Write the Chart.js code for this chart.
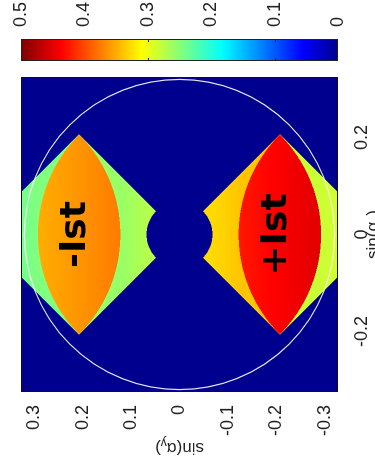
<!DOCTYPE html>
<html>
<head>
<meta charset="utf-8">
<script src="https://cdn.jsdelivr.net/npm/chart.js@4.4.1/dist/chart.umd.min.js"></script>
<style>
  html, body { margin: 0; padding: 0; background: #fff; width: 375px; height: 464px; overflow: hidden; }
  /* the figure is laid out landscape and turned a quarter turn */
  #turn { position: absolute; left: 0; top: 0; width: 464px; height: 375px;
          transform-origin: 0 0; transform: translate(0, 464px) rotate(-90deg); }
  canvas { display: block; }
</style>
</head>
<body>
<div id="turn"><canvas id="pupil" width="464" height="375"></canvas></div>
<script>
// ---- axes ----
const xTicks = [-0.2, 0, 0.2];                       // sin(alpha_x)
const yTicks = [-0.3, -0.2, -0.1, 0, 0.1, 0.2, 0.3]; // sin(alpha_y)
const xRange = [-0.325, 0.325];
const yRange = [-0.327, 0.327];

// ---- colour scale ----
const levelTicks = [0, 0.1, 0.2, 0.3, 0.4, 0.5];
const levelMarks = [0.1, 0.3];
const levelRange = [0, 0.5];

// ---- diffraction orders ----
const orders = ['-Ist', '+Ist'];
const orderShift = [0.414, -0.414];   // centre of the shifted pupil, sin(alpha_y)
const pupilRadius = 0.292;
const holeRadius = 0.068;
const naRadius = 0.32;

// levels per order, [edge towards the centre, edge away from the centre]
const lensLevels = [[0.375, 0.350], [0.425, 0.452]];
const nearLevels = [[0.272, 0.258], [0.328, 0.338]];  // [hole side, lens side]
const farLevels  = [[0.247, 0.240], [0.283, 0.287]];  // [lens side, frame side]

const FONT = "'Liberation Sans', Arial, sans-serif";
const fmt = v => String(Math.round(v * 10) / 10);

function ramp(pair, t) {
  t = Math.max(0, Math.min(1, t));
  return pair[0] + (pair[1] - pair[0]) * t;
}

// level at a point of the pupil plane
function levelAt(x, y) {
  for (let k = 0; k < orders.length; k++) {
    const s = orderShift[k], c = s / 2, S = Math.abs(s), R = pupilRadius;
    if (Math.abs(x) + Math.abs(y - c) > Math.abs(c)) continue;
    const r0 = Math.hypot(x, y);
    if (r0 < holeRadius) return 0;
    const inCentred = r0 <= R;
    const inShifted = Math.hypot(x, y - s) <= R;
    const ay = Math.abs(y);
    if (inCentred && inShifted) return ramp(lensLevels[k], (ay - (S - R)) / (2 * R - S));
    if (inCentred) return ramp(nearLevels[k], (ay - holeRadius) / (S - R - holeRadius));
    return ramp(farLevels[k], (ay - R) / (yRange[1] - R));
  }
  return 0;
}

// jet colour map
function jet(v) {
  const u = Math.max(0, Math.min(1, (v - levelRange[0]) / (levelRange[1] - levelRange[0])));
  const t = 1 / 64 + u * 63 / 64;
  const f = d => Math.max(0, Math.min(1, 1.5 - Math.abs(4 * t - d)));
  return [f(3) * 255, f(2) * 255, f(1) * 255];
}

function drawTitle(ctx, cx, cy, rot, sub) {
  const parts = [['sin(\u03b1', 17, 0], [sub, 12, 4], [')', 17, 0]];
  ctx.save();
  ctx.translate(cx, cy);
  ctx.rotate(rot);
  ctx.fillStyle = '#222';
  ctx.textBaseline = 'alphabetic';
  ctx.textAlign = 'left';
  let w = 0;
  for (const [t, s] of parts) { ctx.font = s + 'px ' + FONT; w += ctx.measureText(t).width; }
  let px = -w / 2;
  for (const [t, s, dy] of parts) {
    ctx.font = s + 'px ' + FONT;
    ctx.fillText(t, px, dy);
    px += ctx.measureText(t).width;
  }
  ctx.restore();
}

// fixed scale boxes; label overhang is not added to the plot margins
const fixBox = size => s => {
  if (s.isHorizontal()) s.height = size; else s.width = size;
  s.paddingTop = 0; s.paddingBottom = 0; s.paddingLeft = 0; s.paddingRight = 0;
};

const pupilPlugin = {
  id: 'pupil',
  beforeDatasetsDraw(chart) {
    const { ctx, chartArea: a, scales } = chart;
    const xs = scales.x, ys = scales.y;
    const L = Math.round(a.left), T = Math.round(a.top);
    const W = Math.round(a.right) - L, H = Math.round(a.bottom) - T;
    const img = ctx.createImageData(W, H);
    const sub = [0.25, 0.75];
    for (let j = 0; j < H; j++) {
      for (let i = 0; i < W; i++) {
        let r = 0, g = 0, b = 0;
        for (const dy of sub) for (const dx of sub) {
          const c = jet(levelAt(xs.getValueForPixel(L + i + dx), ys.getValueForPixel(T + j + dy)));
          r += c[0]; g += c[1]; b += c[2];
        }
        const o = (j * W + i) * 4;
        img.data[o] = r / 4; img.data[o + 1] = g / 4; img.data[o + 2] = b / 4; img.data[o + 3] = 255;
      }
    }
    ctx.putImageData(img, L, T);

    // numerical aperture circle
    const cx = xs.getPixelForValue(0), cy = ys.getPixelForValue(0);
    const rad = xs.getPixelForValue(naRadius) - cx;
    ctx.save();
    ctx.beginPath(); ctx.rect(a.left, a.top, a.right - a.left, a.bottom - a.top); ctx.clip();
    ctx.beginPath(); ctx.arc(cx, cy, rad, 0, Math.PI * 2);
    ctx.strokeStyle = 'rgba(255,255,255,0.9)'; ctx.lineWidth = 1.2; ctx.stroke();
    ctx.restore();

    // colour bar
    const cb = scales.cbar;
    const bx = Math.round(a.right) + 16, bw = 22;
    for (let v = Math.round(cb.top); v < Math.round(cb.bottom); v++) {
      const c = jet(cb.getValueForPixel(v + 0.5));
      ctx.fillStyle = `rgb(${c[0] | 0},${c[1] | 0},${c[2] | 0})`;
      ctx.fillRect(bx, v, bw, 1);
    }
    ctx.strokeStyle = '#222'; ctx.lineWidth = 1;
    ctx.strokeRect(bx + 0.5, Math.round(cb.top) + 0.5, bw - 1, Math.round(cb.bottom) - Math.round(cb.top) - 1);
    ctx.beginPath();
    for (const m of levelMarks) {
      const p = Math.round(cb.getPixelForValue(m)) + 0.5;
      ctx.moveTo(bx, p); ctx.lineTo(bx + 3, p);
      ctx.moveTo(bx + bw - 3, p); ctx.lineTo(bx + bw, p);
    }
    ctx.stroke();
  },
  afterDatasetsDraw(chart) {
    const { ctx, chartArea: a } = chart;
    // order names, placed at each order's anchor point
    ctx.save();
    ctx.fillStyle = '#000';
    ctx.font = "bold 36px 'DejaVu Sans', sans-serif";
    ctx.textAlign = 'center';
    ctx.textBaseline = 'alphabetic';
    orders.forEach((name, k) => {
      const pt = chart.getDatasetMeta(k).data[0];
      ctx.fillText(name, pt.x, pt.y + 6);
    });
    ctx.restore();
    // frame
    ctx.save();
    ctx.strokeStyle = '#111'; ctx.lineWidth = 1;
    ctx.strokeRect(Math.round(a.left) + 0.5, Math.round(a.top) + 0.5,
                   Math.round(a.right - a.left) - 1, Math.round(a.bottom - a.top) - 1);
    ctx.restore();
  },
  afterDraw(chart) {
    const { ctx, chartArea: a } = chart;
    drawTitle(ctx, (a.left + a.right) / 2, chart.height + 3, 0, 'x');
    drawTitle(ctx, 20.5, (a.top + a.bottom) / 2, -Math.PI / 2, 'y');
  }
};

const tickFont = { family: FONT, size: 18 };

new Chart(document.getElementById('pupil'), {
  type: 'scatter',
  data: {
    datasets: orders.map((name, k) => ({
      label: name,
      data: [{ x: 0, y: orderShift[k] / 2 }],
      pointRadius: 0,
      pointHoverRadius: 0
    }))
  },
  options: {
    responsive: false,
    animation: false,
    devicePixelRatio: 1,
    events: [],
    layout: { padding: { top: 21, left: 0, right: 0, bottom: 0 } },
    plugins: { legend: { display: false }, tooltip: { enabled: false } },
    scales: {
      x: {
        type: 'linear', position: 'bottom', min: xRange[0], max: xRange[1],
        grid: { display: false }, border: { display: false },
        afterBuildTicks: s => { s.ticks = xTicks.map(v => ({ value: v })); },
        afterFit: fixBox(37),
        ticks: { font: tickFont, color: '#222', padding: 5, maxRotation: 0, autoSkip: false, callback: fmt }
      },
      y: {
        type: 'linear', position: 'left', min: yRange[0], max: yRange[1],
        grid: { display: false }, border: { display: false },
        afterBuildTicks: s => { s.ticks = yTicks.map(v => ({ value: v })); },
        afterFit: fixBox(72),
        ticks: { font: tickFont, color: '#222', padding: 5, autoSkip: false, callback: fmt }
      },
      cbar: {
        type: 'linear', position: 'right', min: levelRange[0], max: levelRange[1],
        grid: { display: false }, border: { display: false },
        afterBuildTicks: s => { s.ticks = levelTicks.map(v => ({ value: v })); },
        afterFit: fixBox(77),
        ticks: { font: tickFont, color: '#222', padding: 42, autoSkip: false, callback: fmt }
      }
    }
  },
  plugins: [pupilPlugin]
});
</script>
</body>
</html>
